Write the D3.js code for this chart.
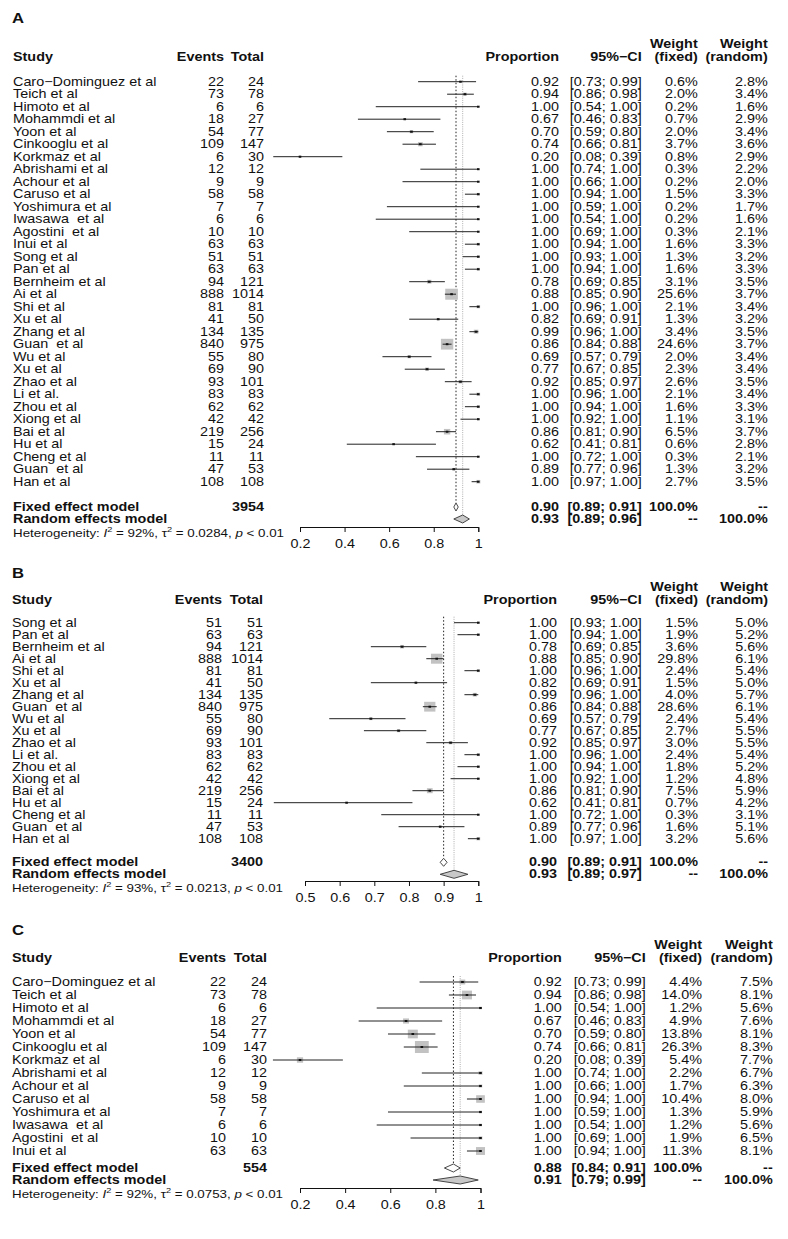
<!DOCTYPE html>
<html>
<head>
<meta charset="utf-8">
<script src="https://cdn.jsdelivr.net/npm/d3@7"></script>
<style>
  body { margin: 0; background: #fff; }
  text { font-family: "Liberation Sans", Arial, sans-serif; fill: #111; white-space: pre; }
</style>
</head>
<body>
<script>
// Study level data (panel A lists all of them, B the last 19, C the first 14)
const studies = ["Caro\u2212Dominguez et al", "Teich et al", "Himoto et al", "Mohammdi et al", "Yoon et al",
  "Cinkooglu et al", "Korkmaz et al", "Abrishami et al", "Achour et al", "Caruso et al", "Yoshimura et al",
  "Iwasawa  et al", "Agostini  et al", "Inui et al", "Song et al", "Pan et al", "Bernheim et al", "Ai et al",
  "Shi et al", "Xu et al", "Zhang et al", "Guan  et al", "Wu et al", "Xu et al", "Zhao et al", "Li et al.",
  "Zhou et al", "Xiong et al", "Bai et al", "Hu et al", "Cheng et al", "Guan  et al", "Han et al"];
const events = [22, 73, 6, 18, 54, 109, 6, 12, 9, 58, 7, 6, 10, 63, 51, 63, 94, 888, 81, 41, 134, 840, 55, 69, 93, 83, 62, 42, 219, 15, 11, 47, 108];
const totals = [24, 78, 6, 27, 77, 147, 30, 12, 9, 58, 7, 6, 10, 63, 51, 63, 121, 1014, 81, 50, 135, 975, 80, 90, 101, 83, 62, 42, 256, 24, 11, 53, 108];
const proportion = [0.92, 0.94, 1.00, 0.67, 0.70, 0.74, 0.20, 1.00, 1.00, 1.00, 1.00, 1.00, 1.00, 1.00, 1.00, 1.00, 0.78, 0.88, 1.00, 0.82, 0.99, 0.86, 0.69, 0.77, 0.92, 1.00, 1.00, 1.00, 0.86, 0.62, 1.00, 0.89, 1.00];
const ciLower = [0.73, 0.86, 0.54, 0.46, 0.59, 0.66, 0.08, 0.74, 0.66, 0.94, 0.59, 0.54, 0.69, 0.94, 0.93, 0.94, 0.69, 0.85, 0.96, 0.69, 0.96, 0.84, 0.57, 0.67, 0.85, 0.96, 0.94, 0.92, 0.81, 0.41, 0.72, 0.77, 0.97];
const ciUpper = [0.99, 0.98, 1.00, 0.83, 0.80, 0.81, 0.39, 1.00, 1.00, 1.00, 1.00, 1.00, 1.00, 1.00, 1.00, 1.00, 0.85, 0.90, 1.00, 0.91, 1.00, 0.88, 0.79, 0.85, 0.97, 1.00, 1.00, 1.00, 0.90, 0.81, 1.00, 0.96, 1.00];

// weights (%) per panel
const weightFixedA = [0.6, 2.0, 0.2, 0.7, 2.0, 3.7, 0.8, 0.3, 0.2, 1.5, 0.2, 0.2, 0.3, 1.6, 1.3, 1.6, 3.1, 25.6, 2.1, 1.3, 3.4, 24.6, 2.0, 2.3, 2.6, 2.1, 1.6, 1.1, 6.5, 0.6, 0.3, 1.3, 2.7];
const weightRandomA = [2.8, 3.4, 1.6, 2.9, 3.4, 3.6, 2.9, 2.2, 2.0, 3.3, 1.7, 1.6, 2.1, 3.3, 3.2, 3.3, 3.5, 3.7, 3.4, 3.2, 3.5, 3.7, 3.4, 3.4, 3.5, 3.4, 3.3, 3.1, 3.7, 2.8, 2.1, 3.2, 3.5];
const weightFixedB = [1.5, 1.9, 3.6, 29.8, 2.4, 1.5, 4.0, 28.6, 2.4, 2.7, 3.0, 2.4, 1.8, 1.2, 7.5, 0.7, 0.3, 1.6, 3.2];
const weightRandomB = [5.0, 5.2, 5.6, 6.1, 5.4, 5.0, 5.7, 6.1, 5.4, 5.5, 5.5, 5.4, 5.2, 4.8, 5.9, 4.2, 3.1, 5.1, 5.6];
const weightFixedC = [4.4, 14.0, 1.2, 4.9, 13.8, 26.3, 5.4, 2.2, 1.7, 10.4, 1.3, 1.2, 1.9, 11.3];
const weightRandomC = [7.5, 8.1, 5.6, 7.6, 8.1, 8.3, 7.7, 6.7, 6.3, 8.0, 5.9, 5.6, 6.5, 8.1];

// pooled estimates: [estimate, lower, upper]
const fixedA = [0.90, 0.89, 0.91], randomA = [0.93, 0.89, 0.96];
const fixedB = [0.90, 0.89, 0.91], randomB = [0.93, 0.89, 0.97];
const fixedC = [0.88, 0.84, 0.91], randomC = [0.91, 0.79, 0.99];
const totalN = { A: 3954, B: 3400, C: 554 };
const hetI2 = { A: 92, B: 93, C: 92 };
const hetTau2 = { A: "0.0284", B: "0.0213", C: "0.0753" };

const ticksA = [0.2, 0.4, 0.6, 0.8, 1];
const ticksB = [0.5, 0.6, 0.7, 0.8, 0.9, 1];
const ticksC = [0.2, 0.4, 0.6, 0.8, 1];

const W = 788, H = 1239;
const SX = 1.15; // the picture is stretched horizontally
const FS = 12.5;

const svg = d3.select("body").append("svg")
  .attr("width", W).attr("height", H);

const f2 = d3.format(".2f");
const pct = d => d3.format(".1f")(d) + "%";

function txt(g, x, y, s, anchor, opt) {
  opt = opt || {};
  return g.append("text")
    .attr("transform", `translate(${x},${y}) scale(${SX},1)`)
    .attr("text-anchor", anchor || "start")
    .attr("dominant-baseline", "central")
    .style("font-size", (opt.size || FS) + "px")
    .style("font-weight", opt.bold ? "bold" : "normal")
    .text(s);
}

const panels = [
  { name: "A", names: studies, ev: events, tot: totals, p: proportion, lo: ciLower, hi: ciUpper,
    wf: weightFixedA, wr: weightRandomA, fixed: fixedA, random: randomA, ticks: ticksA,
    domain: [0.2, 1], range: [300, 478.3], labelY: 18, headY: 44, row0: 81.7, rowH: 12.5,
    fixedY: 507, randomY: 519, hetY: 533, axisY: 527, sq: 11,
    cols: { study: 13, ev: 224, tot: 264, p: 559, ci: 641.7, wf: 697.7, wr: 767.7 } },
  { name: "B", names: studies.slice(14), ev: events.slice(14), tot: totals.slice(14), p: proportion.slice(14),
    lo: ciLower.slice(14), hi: ciUpper.slice(14),
    wf: weightFixedB, wr: weightRandomB, fixed: fixedB, random: randomB, ticks: ticksB,
    domain: [0.5, 1], range: [305, 478.3], labelY: 572.5, headY: 587, row0: 622.7, rowH: 12,
    fixedY: 862.3, randomY: 874.3, hetY: 888.3, axisY: 881, sq: 10,
    cols: { study: 12, ev: 222, tot: 263, p: 557, ci: 641.7, wf: 698, wr: 768 } },
  { name: "C", names: studies.slice(0, 14), ev: events.slice(0, 14), tot: totals.slice(0, 14), p: proportion.slice(0, 14),
    lo: ciLower.slice(0, 14), hi: ciUpper.slice(0, 14),
    wf: weightFixedC, wr: weightRandomC, fixed: fixedC, random: randomC, ticks: ticksC,
    domain: [0.2, 1], range: [300, 480.5], labelY: 930, headY: 945, row0: 982, rowH: 13,
    fixedY: 1168, randomY: 1180, hetY: 1194, axisY: 1188, sq: 12,
    cols: { study: 12, ev: 226, tot: 267, p: 561.7, ci: 645.7, wf: 702, wr: 772.7 } }
];

panels.forEach(P => {
  const g = svg.append("g");
  const x = d3.scaleLinear().domain(P.domain).range(P.range);
  const c = P.cols;
  const h2 = P.headY + 13;

  // panel letter
  txt(g, 12, P.labelY, P.name, "start", { bold: true, size: 14.5 });

  // column headers
  const hb = { bold: true };
  txt(g, c.study, h2, "Study", "start", hb);
  txt(g, c.ev, h2, "Events", "end", hb);
  txt(g, c.tot, h2, "Total", "end", hb);
  txt(g, c.p, h2, "Proportion", "end", hb);
  txt(g, c.ci, h2, "95%\u2212CI", "end", hb);
  txt(g, c.wf, P.headY, "Weight", "end", hb);
  txt(g, c.wf, h2, "(fixed)", "end", hb);
  txt(g, c.wr, P.headY, "Weight", "end", hb);
  txt(g, c.wr, h2, "(random)", "end", hb);

  const rowY = i => P.row0 + i * P.rowH;

  // reference lines for the pooled estimates
  g.append("line")
    .attr("x1", x(P.fixed[0])).attr("x2", x(P.fixed[0]))
    .attr("y1", P.row0 - 6).attr("y2", P.fixedY - 4)
    .attr("stroke", "#222").attr("stroke-width", 1).attr("stroke-dasharray", "1.5,2");
  g.append("line")
    .attr("x1", x(P.random[0])).attr("x2", x(P.random[0]))
    .attr("y1", P.row0 - 6).attr("y2", P.randomY - 4)
    .attr("stroke", "#999").attr("stroke-width", 0.8).attr("stroke-dasharray", "1,1.2");

  const wmax = d3.max(P.wf);

  P.names.forEach((name, i) => {
    const y = rowY(i);
    txt(g, c.study, y, name, "start");
    txt(g, c.ev, y, P.ev[i], "end");
    txt(g, c.tot, y, P.tot[i], "end");
    txt(g, c.p, y, f2(P.p[i]), "end");
    txt(g, c.ci, y, `[${f2(P.lo[i])}; ${f2(P.hi[i])}]`, "end");
    txt(g, c.wf, y, pct(P.wf[i]), "end");
    txt(g, c.wr, y, pct(P.wr[i]), "end");

    // weight square
    const s = P.sq * Math.sqrt(P.wf[i] / wmax);
    g.append("rect")
      .attr("x", x(P.p[i]) - s * SX / 2).attr("y", y - s / 2)
      .attr("width", s * SX).attr("height", s)
      .attr("fill", "#c2c2c2");
    // confidence interval
    g.append("line")
      .attr("x1", x(P.lo[i])).attr("x2", x(P.hi[i]))
      .attr("y1", y).attr("y2", y)
      .attr("stroke", "#222").attr("stroke-width", 1);
    // point estimate
    g.append("rect")
      .attr("x", x(P.p[i]) - 1.3).attr("y", y - 1)
      .attr("width", 2.6).attr("height", 2)
      .attr("fill", "#111");
  });

  // pooled rows
  const bb = { bold: true };
  txt(g, c.study, P.fixedY, "Fixed effect model", "start", bb);
  txt(g, c.tot, P.fixedY, totalN[P.name], "end", bb);
  txt(g, c.p, P.fixedY, f2(P.fixed[0]), "end", bb);
  txt(g, c.ci, P.fixedY, `[${f2(P.fixed[1])}; ${f2(P.fixed[2])}]`, "end", bb);
  txt(g, c.wf, P.fixedY, "100.0%", "end", bb);
  txt(g, c.wr, P.fixedY, "--", "end", bb);

  txt(g, c.study, P.randomY, "Random effects model", "start", bb);
  txt(g, c.p, P.randomY, f2(P.random[0]), "end", bb);
  txt(g, c.ci, P.randomY, `[${f2(P.random[1])}; ${f2(P.random[2])}]`, "end", bb);
  txt(g, c.wf, P.randomY, "--", "end", bb);
  txt(g, c.wr, P.randomY, "100.0%", "end", bb);

  // diamonds
  const diamond = (est, y, fill) => {
    const pts = [[x(est[1]), y], [x(est[0]), y - 4], [x(est[2]), y], [x(est[0]), y + 4]];
    g.append("path")
      .attr("d", d3.line()(pts) + "Z")
      .attr("fill", fill).attr("stroke", "#333").attr("stroke-width", 0.9);
  };
  diamond(P.fixed, P.fixedY, "#fff");
  diamond(P.random, P.randomY, "#c8c8c8");

  // heterogeneity line
  const het = g.append("text")
    .attr("transform", `translate(${c.study},${P.hetY}) scale(${SX},1)`)
    .attr("dominant-baseline", "central")
    .style("font-size", "11.6px");
  het.append("tspan").text("Heterogeneity: ");
  het.append("tspan").style("font-style", "italic").text("I");
  het.append("tspan").attr("dy", -4).style("font-size", "8px").text("2");
  het.append("tspan").attr("dy", 4).text(` = ${hetI2[P.name]}%, \u03c4`);
  het.append("tspan").attr("dy", -4).style("font-size", "8px").text("2");
  het.append("tspan").attr("dy", 4).text(` = ${hetTau2[P.name]}, `);
  het.append("tspan").style("font-style", "italic").text("p");
  het.append("tspan").text(" < 0.01");

  // x axis
  const ax = g.append("g")
    .attr("transform", `translate(0,${P.axisY})`)
    .call(d3.axisBottom(x).tickValues(P.ticks).tickSize(5).tickFormat(d3.format("~g")));
  ax.selectAll("path, line").attr("stroke", "#111");
  ax.selectAll("text")
    .attr("y", 0).attr("dy", null)
    .attr("transform", `translate(0,17) scale(${SX},1)`)
    .attr("dominant-baseline", "central")
    .style("font-size", FS + "px").style("font-family", "'Liberation Sans', Arial, sans-serif")
    .attr("fill", "#111");
});
</script>
</body>
</html>
